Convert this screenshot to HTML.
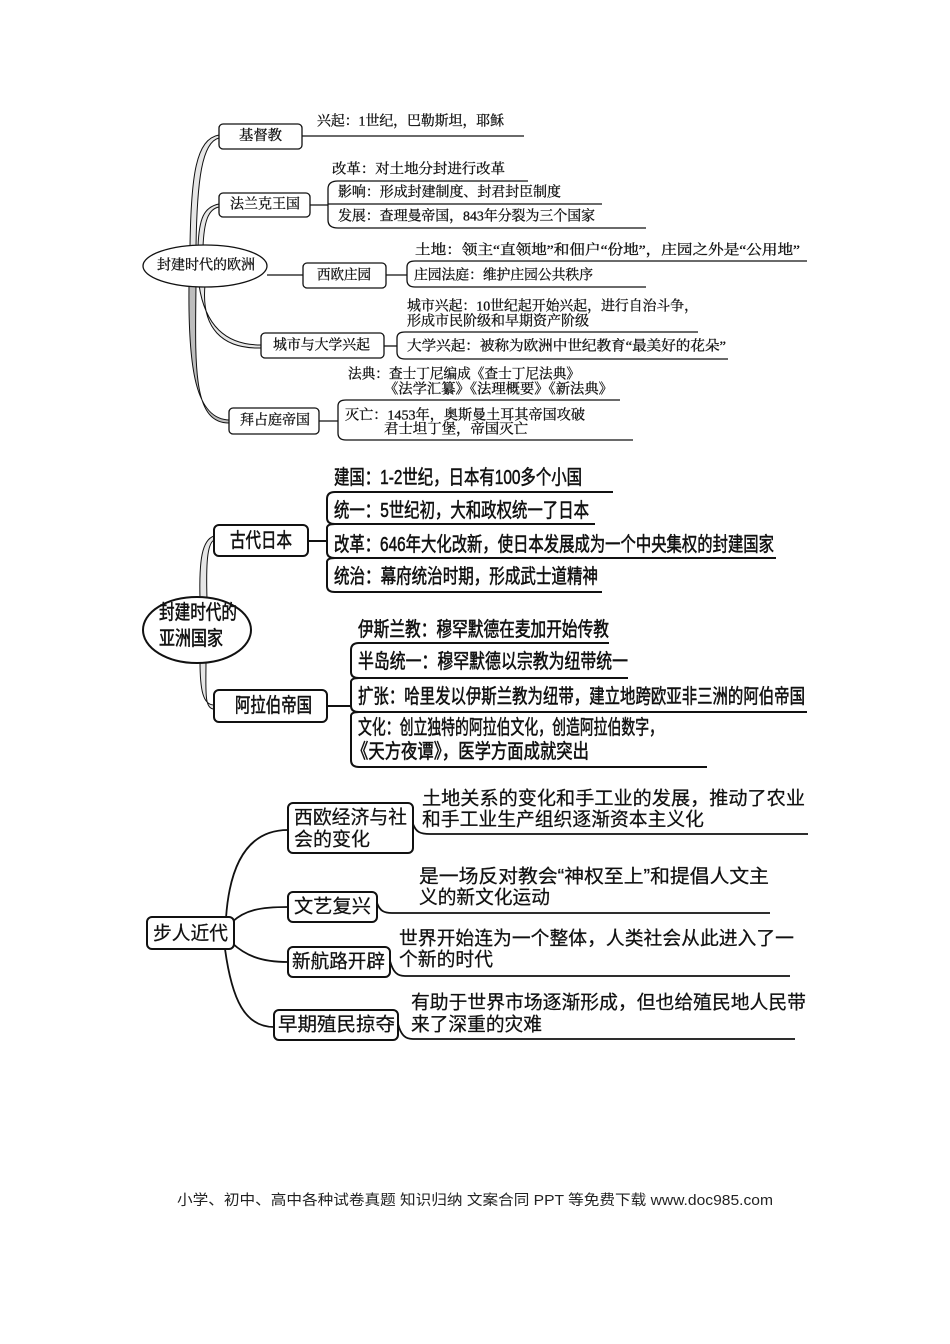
<!DOCTYPE html>
<html><head><meta charset="utf-8"><style>
html,body{margin:0;padding:0;background:#fff;}
svg{display:block;}
.s1{font-family:"Liberation Serif","Noto Serif CJK SC",serif;font-size:14px;fill:#111;stroke:#111;stroke-width:0.3;}
.s2{font-family:"Liberation Sans","Noto Sans CJK SC",sans-serif;font-size:20px;fill:#111;stroke:#111;stroke-width:0.55;}
.s3{font-family:"Liberation Sans","Noto Sans CJK SC",sans-serif;font-size:19px;fill:#111;stroke:#111;stroke-width:0.25;}
.ft{font-family:"Liberation Sans","Noto Sans CJK SC",sans-serif;font-size:14.5px;fill:#222;}
.l1{fill:none;stroke:#111;stroke-width:1.3;}
.l2{fill:none;stroke:#111;stroke-width:2;}
.l3{fill:none;stroke:#111;stroke-width:1.8;}
.b1{fill:#fff;stroke:#111;stroke-width:1.3;}
.b2{fill:#fff;stroke:#111;stroke-width:2;}
.rb{fill:#e6e6e6;stroke:#111;stroke-width:1;}
</style></head><body>
<svg width="950" height="1344" viewBox="0 0 950 1344" xmlns="http://www.w3.org/2000/svg">
<g dominant-baseline="central">

<!-- ===== Section 1 ===== -->
<path class="rb" d="M190 247 C191 175,196 139,219 135 L219 138 C202 142,197 180,196 247 Z"/>
<path class="rb" d="M198 247 C199 218,204 207,219 204 L219 207 C208 209,204 222,203 247 Z"/>
<path class="rb" d="M199 285 C205 325,225 345,261 345 L261 348 C222 349,201 328,205 285 Z"/>
<path class="rb" style="fill:#bdbdbd" d="M189 285 C188 370,196 420,230 420 L230 423 C193 424,195 370,196 285 Z"/>
<line class="l1" x1="267" y1="275" x2="303" y2="275"/>
<ellipse class="b1" cx="205" cy="266" rx="62" ry="21"/>
<text class="s1" x="157" y="266" textLength="98" lengthAdjust="spacingAndGlyphs">封建时代的欧洲</text>

<!-- 基督教 -->
<rect class="b1" x="219" y="124" width="83" height="25" rx="4"/>
<text class="s1" x="239" y="136.5" textLength="43" lengthAdjust="spacingAndGlyphs">基督教</text>
<path class="l1" d="M302 136 L524 136"/>
<text class="s1" x="317" y="122" textLength="187" lengthAdjust="spacingAndGlyphs">兴起：1世纪，巴勒斯坦，耶稣</text>

<!-- 法兰克王国 -->
<rect class="b1" x="219" y="193" width="91" height="24" rx="4"/>
<text class="s1" x="230" y="205" textLength="70" lengthAdjust="spacingAndGlyphs">法兰克王国</text>
<path class="l1" d="M310 205 L328 205"/>
<path class="l1" d="M528 181 L338 181 Q328 181 328 189 L328 220 Q328 228 338 228 L646 228 M328 204 L602 204"/>
<text class="s1" x="332" y="170" textLength="173" lengthAdjust="spacingAndGlyphs">改革：对土地分封进行改革</text>
<text class="s1" x="338" y="193" textLength="223" lengthAdjust="spacingAndGlyphs">影响：形成封建制度、封君封臣制度</text>
<text class="s1" x="338" y="217" textLength="257" lengthAdjust="spacingAndGlyphs">发展：查理曼帝国，843年分裂为三个国家</text>

<!-- 西欧庄园 -->
<rect class="b1" x="303" y="263" width="83" height="25" rx="4"/>
<text class="s1" x="317" y="276" textLength="54" lengthAdjust="spacingAndGlyphs">西欧庄园</text>
<path class="l1" d="M386 275 L407 275"/>
<path class="l1" d="M807 261 L415 261 Q407 261 407 267 L407 280 Q407 287 415 287 L646 287"/>
<text class="s1" x="415" y="251" textLength="385" lengthAdjust="spacingAndGlyphs">土地：领主“直领地”和佃户“份地”，庄园之外是“公用地”</text>
<text class="s1" x="414" y="276" textLength="179" lengthAdjust="spacingAndGlyphs">庄园法庭：维护庄园公共秩序</text>

<!-- 城市与大学兴起 -->
<rect class="b1" x="261" y="333" width="123" height="25" rx="4"/>
<text class="s1" x="273" y="346" textLength="97" lengthAdjust="spacingAndGlyphs">城市与大学兴起</text>
<path class="l1" d="M384 346 L397 346"/>
<path class="l1" d="M698 332 L405 332 Q397 332 397 338 L397 352 Q397 359 405 359 L728 359"/>
<text class="s1" x="407" y="307" textLength="291" lengthAdjust="spacingAndGlyphs">城市兴起：10世纪起开始兴起，进行自治斗争，</text>
<text class="s1" x="407" y="322" textLength="182" lengthAdjust="spacingAndGlyphs">形成市民阶级和早期资产阶级</text>
<text class="s1" x="407" y="347" textLength="319" lengthAdjust="spacingAndGlyphs">大学兴起：被称为欧洲中世纪教育“最美好的花朵”</text>

<!-- 拜占庭帝国 -->
<rect class="b1" x="229" y="408" width="90" height="26" rx="4"/>
<text class="s1" x="240" y="421" textLength="70" lengthAdjust="spacingAndGlyphs">拜占庭帝国</text>
<path class="l1" d="M319 421 L338 421"/>
<path class="l1" d="M620 400 L346 400 Q338 400 338 406 L338 433 Q338 440 346 440 L633 440"/>
<text class="s1" x="348" y="375" textLength="232" lengthAdjust="spacingAndGlyphs">法典：查士丁尼编成《查士丁尼法典》</text>
<text class="s1" x="384" y="390" textLength="229" lengthAdjust="spacingAndGlyphs">《法学汇纂》《法理概要》《新法典》</text>
<text class="s1" x="345" y="416" textLength="240" lengthAdjust="spacingAndGlyphs">灭亡：1453年，奥斯曼土耳其帝国攻破</text>
<text class="s1" x="384" y="430" textLength="144" lengthAdjust="spacingAndGlyphs">君士坦丁堡，帝国灭亡</text>

<!-- ===== Section 2 ===== -->
<path class="rb" d="M200 599 C199 560,202 540,214 536 L214 540 C207 544,206 565,207 599 Z"/>
<path class="rb" d="M200 661 C200 690,203 705,214 705 L214 709 C204 709,206 690,206 661 Z"/>
<ellipse class="b2" cx="197" cy="630" rx="54" ry="33"/>
<text class="s2" x="159" y="613" textLength="78" lengthAdjust="spacingAndGlyphs">封建时代的</text>
<text class="s2" x="159" y="639" textLength="64" lengthAdjust="spacingAndGlyphs">亚洲国家</text>

<!-- 古代日本 -->
<rect class="b2" x="214" y="525" width="94" height="31" rx="5"/>
<text class="s2" x="230" y="541" textLength="62" lengthAdjust="spacingAndGlyphs">古代日本</text>
<path class="l2" d="M308 541 L327 541"/>
<path class="l2" d="M613 492 L335 492 Q327 492 327 499 L327 518 Q327 524 335 524 L595 524 M327 528 Q327 524 335 524 M327 528 L327 552 Q327 558 335 558 L776 558 M327 562 Q327 558 335 558 M327 562 L327 586 Q327 592 335 592 L602 592"/>
<text class="s2" x="334" y="478" textLength="248" lengthAdjust="spacingAndGlyphs">建国：1-2世纪，日本有100多个小国</text>
<text class="s2" x="334" y="511" textLength="255" lengthAdjust="spacingAndGlyphs">统一：5世纪初，大和政权统一了日本</text>
<text class="s2" x="334" y="545" textLength="440" lengthAdjust="spacingAndGlyphs">改革：646年大化改新，使日本发展成为一个中央集权的封建国家</text>
<text class="s2" x="334" y="577" textLength="264" lengthAdjust="spacingAndGlyphs">统治：幕府统治时期，形成武士道精神</text>

<!-- 阿拉伯帝国 -->
<rect class="b2" x="214" y="690" width="113" height="32" rx="5"/>
<text class="s2" x="235" y="706" textLength="77" lengthAdjust="spacingAndGlyphs">阿拉伯帝国</text>
<path class="l2" d="M327 706 L351 706"/>
<path class="l2" d="M609 643 L359 643 Q351 643 351 650 L351 672 Q351 678 359 678 L628 678 M351 682 Q351 678 359 678 M351 682 L351 706 Q351 712 359 712 L807 712 M351 716 Q351 712 359 712 M351 716 L351 760 Q351 767 359 767 L707 767"/>
<text class="s2" x="358" y="630" textLength="251" lengthAdjust="spacingAndGlyphs">伊斯兰教：穆罕默德在麦加开始传教</text>
<text class="s2" x="358" y="662" textLength="270" lengthAdjust="spacingAndGlyphs">半岛统一：穆罕默德以宗教为纽带统一</text>
<text class="s2" x="358" y="697" textLength="447" lengthAdjust="spacingAndGlyphs">扩张：哈里发以伊斯兰教为纽带，建立地跨欧亚非三洲的阿伯帝国</text>
<text class="s2" x="358" y="728" textLength="305" lengthAdjust="spacingAndGlyphs">文化：创立独特的阿拉伯文化，创造阿拉伯数字，</text>
<text class="s2" x="352" y="752" textLength="237" lengthAdjust="spacingAndGlyphs">《天方夜谭》，医学方面成就突出</text>

<!-- ===== Section 3 ===== -->
<path class="l3" d="M226 918 C230 860,250 830,288 830"/>
<path class="l3" d="M232 922 C245 910,260 907,288 907"/>
<path class="l3" d="M232 943 C245 955,260 962,288 962"/>
<path class="l3" d="M225 949 C232 1000,245 1027,274 1027"/>

<rect class="b2" x="147" y="917" width="87" height="32" rx="5"/>
<text class="s3" x="153" y="934" textLength="75" lengthAdjust="spacingAndGlyphs">步人近代</text>

<rect class="b2" x="288" y="803" width="125" height="50" rx="5"/>
<text class="s3" x="294" y="818" textLength="113" lengthAdjust="spacingAndGlyphs">西欧经济与社</text>
<text class="s3" x="294" y="840" textLength="76" lengthAdjust="spacingAndGlyphs">会的变化</text>
<path class="l3" d="M413 824 C416 832,420 834,430 834 L808 834"/>
<text class="s3" x="422" y="799" textLength="383" lengthAdjust="spacingAndGlyphs">土地关系的变化和手工业的发展，推动了农业</text>
<text class="s3" x="422" y="820" textLength="282" lengthAdjust="spacingAndGlyphs">和手工业生产组织逐渐资本主义化</text>

<rect class="b2" x="288" y="892" width="89" height="30" rx="5"/>
<text class="s3" x="294" y="907" textLength="77" lengthAdjust="spacingAndGlyphs">文艺复兴</text>
<path class="l3" d="M377 903 C380 911,384 913,392 913 L770 913"/>
<text class="s3" x="419" y="877" textLength="350" lengthAdjust="spacingAndGlyphs">是一场反对教会“神权至上”和提倡人文主</text>
<text class="s3" x="419" y="898" textLength="131" lengthAdjust="spacingAndGlyphs">义的新文化运动</text>

<rect class="b2" x="288" y="947" width="102" height="30" rx="5"/>
<text class="s3" x="292" y="962" textLength="93" lengthAdjust="spacingAndGlyphs">新航路开辟</text>
<path class="l3" d="M390 961 C393 972,397 976,405 976 L790 976"/>
<text class="s3" x="399" y="939" textLength="395" lengthAdjust="spacingAndGlyphs">世界开始连为一个整体，人类社会从此进入了一</text>
<text class="s3" x="399" y="960" textLength="94" lengthAdjust="spacingAndGlyphs">个新的时代</text>

<rect class="b2" x="274" y="1010" width="124" height="30" rx="5"/>
<text class="s3" x="278" y="1025" textLength="117" lengthAdjust="spacingAndGlyphs">早期殖民掠夺</text>
<path class="l3" d="M398 1024 C401 1035,405 1039,413 1039 L795 1039"/>
<text class="s3" x="411" y="1003" textLength="395" lengthAdjust="spacingAndGlyphs">有助于世界市场逐渐形成，但也给殖民地人民带</text>
<text class="s3" x="411" y="1025" textLength="131" lengthAdjust="spacingAndGlyphs">来了深重的灾难</text>

<!-- footer -->
<text class="ft" x="177" y="1201" textLength="596" lengthAdjust="spacingAndGlyphs">小学、初中、高中各种试卷真题 知识归纳 文案合同 PPT 等免费下载  www.doc985.com</text>
</g>
</svg>
</body></html>
